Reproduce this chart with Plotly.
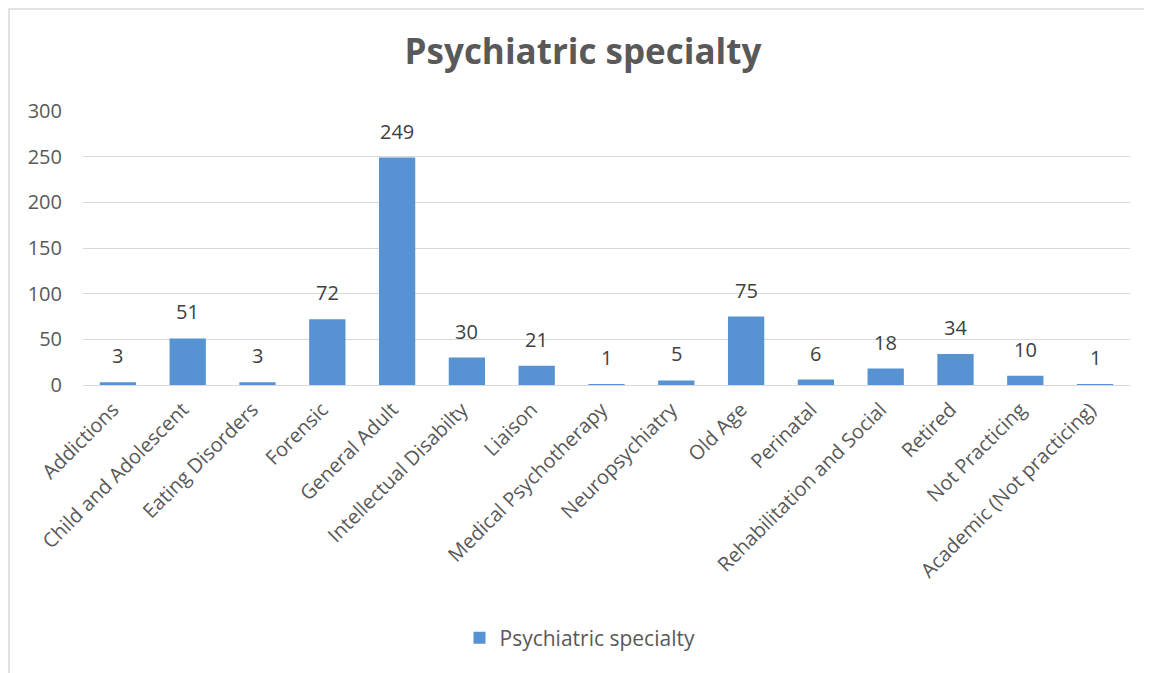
import plotly.graph_objects as go

categories = ["Addictions", "Child and Adolescent", "Eating Disorders", "Forensic",
              "General Adult", "Intellectual Disabilty", "Liaison", "Medical Psychotherapy",
              "Neuropsychiatry", "Old Age", "Perinatal", "Rehabilitation and Social",
              "Retired", "Not Practicing", "Academic (Not practicing)"]
values = [3, 51, 3, 72, 249, 30, 21, 1, 5, 75, 6, 18, 34, 10, 1]
y_ticks = [0, 50, 100, 150, 200, 250, 300]

FONT = "Open Sans"
W, H = 1144, 665
L, R, T, B = 75, 22, 103, 288
PH = H - T - B
PW = W - L - R

fig = go.Figure()
fig.add_trace(go.Bar(
    x=categories, y=values, name="Psychiatric specialty",
    marker=dict(color="#5793D3", line=dict(width=0)),
    showlegend=True,
))
for c, v in zip(categories, values):
    fig.add_annotation(x=c, y=v, text=str(v), showarrow=False, yanchor="bottom",
                       yshift=11, font=dict(family=FONT, size=20, color="#404040"))

fig.update_layout(
    width=W, height=H,
    margin=dict(l=L, r=R, t=T, b=B, autoexpand=False),
    paper_bgcolor="white", plot_bgcolor="white",
    title=dict(text="<b>Psychiatric specialty</b>", xref="container", x=575 / W,
               xanchor="center", y=1 - 44 / H, yanchor="middle", automargin=False,
               font=dict(family=FONT, size=35, color="#595959")),
    bargap=0.48,
    showlegend=True,
    legend=dict(orientation="h", x=(572 - L) / PW, xanchor="center",
                y=(H - B - 630) / PH, yanchor="middle",
                font=dict(family=FONT, size=21, color="#595959")),
    xaxis=dict(tickangle=-45, tickfont=dict(family=FONT, size=20, color="#595959"),
               showline=True, linecolor="#D9D9D9", linewidth=1, ticks="",
               ticklabelshift=-5, ticklabelstandoff=4,
               showgrid=False, automargin=False),
    yaxis=dict(range=[0, 300], tickvals=y_ticks, showgrid=True, gridcolor="#D9D9D9",
               gridwidth=1, zeroline=False, ticks="", ticklabelstandoff=20,
               automargin=False,
               tickfont=dict(family=FONT, size=20, color="#595959")),
    shapes=[dict(type="rect", xref="paper", yref="paper",
                 x0=(1 - L) / PW, x1=1.03, y0=(H - B - 668) / PH, y1=(H - B - 1) / PH,
                 line=dict(color="#D9D9D9", width=1.5), fillcolor="rgba(0,0,0,0)",
                 layer="below")],
)
fig.write_html("out.html")
